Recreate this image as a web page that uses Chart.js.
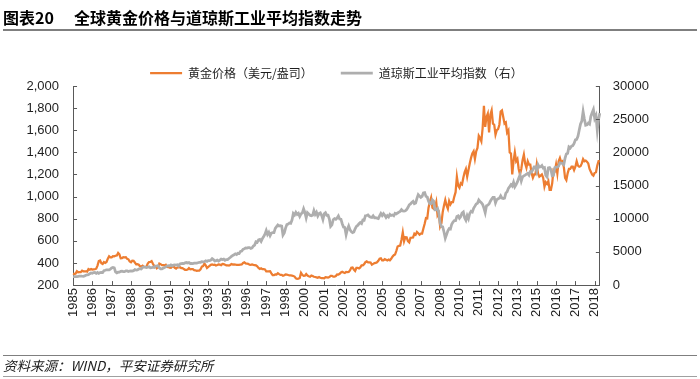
<!DOCTYPE html>
<html>
<head>
<meta charset="utf-8">
<script src="https://cdn.jsdelivr.net/npm/chart.js@4/dist/chart.umd.min.js"></script>
<style>
html,body{margin:0;padding:0;background:#fff;width:700px;height:379px;overflow:hidden;}
#chartBox{position:absolute;left:0;top:0;width:700px;height:379px;}
.t{position:absolute;white-space:nowrap;color:#000;}
#t1{left:3px;top:6px;font:bold 16px "Noto Sans CJK SC",sans-serif;line-height:22px;}
#t2{left:74px;top:6px;font:bold 16px "Noto Sans CJK SC",sans-serif;line-height:22px;}
#tline{position:absolute;left:3px;top:29px;width:694px;height:2px;background:#7f7f7f;}
#fline1{position:absolute;left:3px;top:355px;width:694px;height:1px;background:#7f7f7f;}
#fline2{position:absolute;left:3px;top:376px;width:694px;height:1px;background:#a0a0a0;}
#src{left:3px;top:357px;font:italic 13.5px "Noto Sans CJK SC",sans-serif;line-height:17px;color:#222;}
</style>
</head>
<body>
<div id="chartBox"><canvas id="c" width="700" height="379"></canvas></div>
<div class="t" id="t1">图表20</div>
<div class="t" id="t2">全球黄金价格与道琼斯工业平均指数走势</div>
<div id="tline"></div>
<div id="fline1"></div>
<div class="t" id="src">资料来源：WIND，平安证券研究所</div>
<div id="fline2"></div>
<script>
// ---- data (monthly, Jan 1985 – Feb 2019) ----
const startYear = 1985;
const labelEvery = 15; // one year label every 15 months

const seriesNames = ['黄金价格（美元/盎司）', '道琼斯工业平均指数（右）'];

const goldPrice = [
  303,299,304,325,316,317,317,330,324,325,325,322,
  345,339,346,340,342,343,348,376,418,423,398,391,
  408,401,409,438,460,450,450,461,460,465,468,490,
  477,442,444,452,451,452,437,433,413,406,420,419,
  404,388,390,384,371,367,375,365,362,367,394,409,
  410,417,393,374,369,352,362,395,389,381,381,378,
  384,364,363,358,357,367,368,356,349,359,360,361,
  354,354,345,338,337,341,353,343,345,344,335,334,
  329,330,330,342,367,371,395,379,355,365,374,383,
  387,382,384,377,381,386,385,380,391,389,384,379,
  379,376,382,391,385,387,386,383,383,383,386,387,
  400,405,396,393,392,385,383,387,383,381,378,369,
  355,346,352,344,344,341,324,324,323,325,306,289,
  289,297,296,308,299,292,293,284,289,296,294,291,
  287,287,286,282,277,261,256,257,264,311,293,283,
  285,300,286,280,275,286,282,275,273,270,266,272,
  266,262,263,261,272,270,268,273,283,283,276,276,
  282,296,294,302,314,321,314,310,319,317,319,333,
  357,359,341,328,355,356,351,360,379,379,389,407,
  414,405,406,404,384,392,398,400,406,420,439,442,
  424,423,434,428,422,430,424,437,456,470,476,510,
  549,555,557,610,676,596,633,632,598,586,628,629,
  631,665,655,680,668,656,666,666,712,754,806,803,
  900,950,990,900,890,900,950,830,850,730,760,860,
  920,970,920,890,960,930,950,950,1000,1040,1180,1100,
  1080,1120,1110,1170,1220,1250,1180,1240,1300,1350,1390,1410,
  1340,1410,1440,1550,1530,1500,1620,1820,1630,1720,1750,1580,
  1740,1780,1660,1650,1560,1600,1610,1650,1770,1780,1720,1660,
  1670,1580,1600,1400,1390,1200,1320,1400,1320,1340,1250,1200,
  1250,1330,1380,1300,1260,1320,1290,1290,1210,1170,1200,1200,
  1290,1210,1180,1190,1200,1170,1090,1130,1115,1140,1060,1060,
  1120,1240,1230,1290,1210,1320,1350,1310,1320,1270,1170,1150,
  1210,1250,1250,1270,1270,1240,1270,1320,1280,1270,1275,1300,
  1340,1320,1325,1315,1300,1250,1225,1200,1190,1215,1220,1280,
  1320,1320
];

const dowJones = [
  1287,1284,1267,1258,1315,1336,1348,1334,1329,1375,1472,1547,
  1571,1709,1819,1784,1877,1893,1775,1898,1768,1878,1914,1896,
  2158,2224,2305,2286,2292,2419,2572,2663,2596,1994,1834,1939,
  1958,2072,2088,2032,2031,2142,2129,2032,2113,2149,2115,2169,
  2342,2258,2294,2419,2480,2440,2661,2737,2693,2645,2706,2753,
  2591,2627,2707,2657,2877,2881,2905,2614,2453,2442,2560,2634,
  2736,2882,2914,2888,3028,2907,3025,3044,3017,3069,2895,3169,
  3224,3267,3236,3359,3397,3319,3394,3257,3272,3226,3305,3301,
  3310,3371,3435,3428,3527,3516,3540,3651,3555,3681,3684,3754,
  3978,3832,3636,3682,3758,3625,3765,3913,3843,3908,3739,3834,
  3843,4011,4158,4321,4465,4556,4708,4611,4789,4756,5075,5117,
  5395,5485,5587,5569,5643,5655,5529,5616,5882,6029,6522,6448,
  6813,6878,6584,7009,7331,7673,8223,7622,7945,7442,7823,7908,
  7907,8546,8800,9063,8900,8952,8883,7539,7843,8592,9117,9181,
  9359,9307,9786,10789,10560,10971,10655,10829,10337,10730,10878,11497,
  10941,10128,10922,10734,10522,10448,10522,11215,10651,10971,10415,10788,
  10887,10495,9879,10735,10912,10502,10523,9950,8848,9075,9852,10022,
  9920,10106,10404,9946,9925,9243,8737,8664,7592,8397,8896,8342,
  8054,7891,7992,8480,8850,8985,9234,9416,9275,9801,9782,10454,
  10488,10584,10358,10226,10188,10435,10140,10174,10080,10027,10428,10783,
  10490,10766,10504,10193,10467,10275,10641,10482,10569,10440,10806,10718,
  10865,10993,11109,11367,11168,11150,11186,11381,11679,12081,12221,12463,
  12622,12269,12354,13063,13628,13409,13212,13358,13896,13930,13372,13265,
  12650,12266,12263,12820,12638,11350,11378,11544,10851,9325,8829,8776,
  8001,7063,7609,8168,8500,8447,9172,9496,9712,9713,10345,10428,
  10067,10325,10857,11009,10137,9774,10466,10015,10788,11118,11006,11578,
  11892,12226,12320,12811,12570,12414,12143,11614,10913,11955,12046,12218,
  12633,12952,13212,13214,12393,12880,13009,13091,13437,13096,13026,13104,
  13861,14054,14579,14840,15116,14910,15500,14810,15130,15546,16086,16577,
  15699,16322,16458,16581,16717,16827,16563,17098,17043,17391,17828,17823,
  17165,18133,17776,17841,18011,17620,17690,16528,16285,17664,17720,17425,
  16466,16517,17685,17774,17787,17930,18432,18401,18308,18142,19124,19763,
  19864,20812,20663,20941,21009,21350,21891,21948,22405,23377,24272,24719,
  26149,25029,24103,24163,24416,24271,25415,25965,26458,25116,25538,23327,
  24999,25916
];

const leftAxis = {min: 200, max: 2000, step: 200};
const rightAxis = {min: 0, max: 30000, step: 5000};

// category labels (YYYY-MM)
const months = goldPrice.map((_, i) =>
  (startYear + Math.floor(i / 12)) + '-' + String(i % 12 + 1).padStart(2, '0'));

// ---- style ----
const axisColor = '#595959';
const textColor = '#1e1e1e';
const goldColor = '#ED7D31';
const dowColor = '#AEAEAE';
const tickFont = {family: '"Liberation Sans", Arial, sans-serif', size: 13};

// inside tick marks, positioned by the chart's own scales
const insideTicks = {
  id: 'insideTicks',
  afterDraw(chart) {
    const {ctx} = chart;
    const {x, y, y1} = chart.scales;
    const len = 4;
    ctx.save();
    ctx.strokeStyle = axisColor;
    ctx.lineWidth = 1;
    ctx.beginPath();
    x.ticks.forEach((t, i) => {
      if (t.label === null || t.label === undefined) return;
      const px = Math.round(x.getPixelForTick(i)) + 0.5;
      ctx.moveTo(px, x.top);
      ctx.lineTo(px, x.top - len);
    });
    y.ticks.forEach((t, i) => {
      const py = Math.round(y.getPixelForTick(i)) + 0.5;
      ctx.moveTo(y.right, py);
      ctx.lineTo(y.right + len, py);
    });
    y1.ticks.forEach((t, i) => {
      const py = Math.round(y1.getPixelForTick(i)) + 0.5;
      ctx.moveTo(y1.left, py);
      ctx.lineTo(y1.left - len, py);
    });
    ctx.stroke();
    ctx.restore();
  }
};

// trims the legend block so the plot starts just under it
const legendTrim = {
  id: 'legendTrim',
  beforeLayout(chart) {
    const lg = chart.legend;
    if (lg && !lg._trimmed) {
      const fit = lg.fit;
      lg.fit = function () { fit.call(this); this.height -= 3; };
      lg._trimmed = true;
    }
  }
};

new Chart(document.getElementById('c'), {
  type: 'line',
  data: {
    labels: months,
    datasets: [
      {label: seriesNames[0], data: goldPrice, yAxisID: 'y', borderColor: goldColor, backgroundColor: goldColor,
       borderWidth: 2.25, pointRadius: 0, tension: 0, order: 2},
      {label: seriesNames[1], data: dowJones, yAxisID: 'y1', borderColor: dowColor, backgroundColor: dowColor,
       borderWidth: 2.75, pointRadius: 0, tension: 0, order: 1}
    ]
  },
  options: {
    responsive: false,
    animation: false,
    devicePixelRatio: 1,
    layout: {padding: {left: 12.5, right: 38, top: 39, bottom: 59}},
    plugins: {
      legend: {
        position: 'top',
        fullSize: false,
        labels: {
          usePointStyle: true, pointStyle: 'line', pointStyleWidth: 32, boxHeight: 12,
          padding: 28, color: textColor,
          font: {family: '"Noto Sans CJK SC", sans-serif', size: 12},
          sort: (a, b) => a.datasetIndex - b.datasetIndex
        }
      },
      tooltip: {enabled: false}
    },
    scales: {
      x: {
        type: 'category',
        grid: {display: false, drawTicks: false},
        border: {display: true, color: axisColor, width: 1},
        ticks: {
          autoSkip: false, minRotation: 90, maxRotation: 90, padding: 3,
          color: textColor, font: tickFont,
          callback: function (v, i) {
            return i % labelEvery === 0 ? this.getLabelForValue(v).slice(0, 4) : null;
          }
        }
      },
      y: {
        position: 'left', min: leftAxis.min, max: leftAxis.max,
        grid: {display: false, drawTicks: false},
        border: {display: true, color: axisColor, width: 1},
        ticks: {
          stepSize: leftAxis.step, padding: 14, color: textColor, font: tickFont,
          callback: v => String(v).replace(/\B(?=(\d{3})+(?!\d))/g, ',')
        }
      },
      y1: {
        position: 'right', min: rightAxis.min, max: rightAxis.max,
        grid: {display: false, drawTicks: false},
        border: {display: true, color: axisColor, width: 1},
        ticks: {stepSize: rightAxis.step, padding: 13, color: textColor, font: tickFont,
          callback: v => String(v)}
      }
    }
  },
  plugins: [insideTicks, legendTrim]
});
</script>
</body>
</html>
